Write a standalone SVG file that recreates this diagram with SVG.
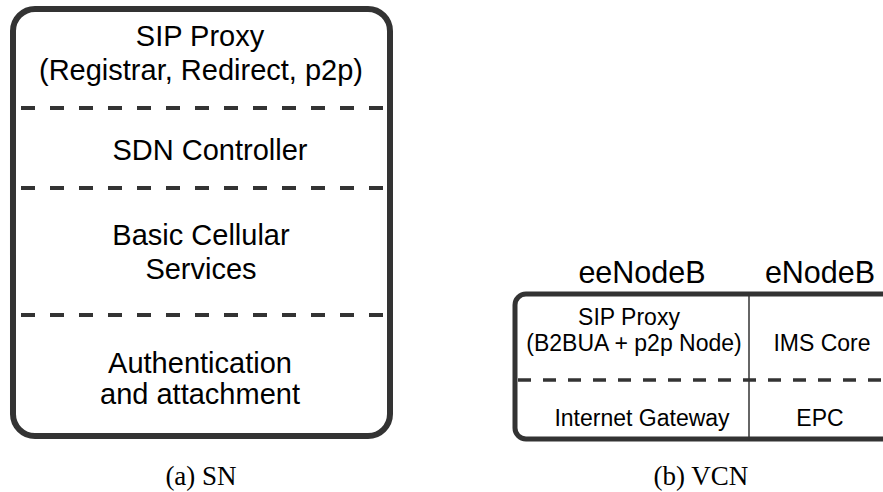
<svg xmlns="http://www.w3.org/2000/svg" width="883" height="492" viewBox="0 0 883 492">
  <style>
    .frame { fill: #ffffff; stroke: #333333; }
    .sep { stroke: #333333; fill: none; }
    .lbl { font-family: "Liberation Sans", Arial, sans-serif; fill: #000000; text-anchor: middle; }
    .big { font-size: 29px; }
    .small { font-size: 23px; }
    .cap { font-family: "Liberation Serif", "Times New Roman", serif; fill: #000000; text-anchor: middle; font-size: 27px; }
  </style>
  <rect width="883" height="492" fill="#ffffff"/>

  <!-- (a) SN: stacked service layers -->
  <g id="sn">
    <rect class="frame" x="13" y="9" width="377" height="427" rx="22" ry="22" stroke-width="6"/>
    <line class="sep" x1="21" y1="108" x2="386" y2="108" stroke-width="4" stroke-dasharray="14 15"/>
    <line class="sep" x1="21" y1="188" x2="386" y2="188" stroke-width="4" stroke-dasharray="14 15"/>
    <line class="sep" x1="21" y1="315" x2="386" y2="315" stroke-width="4" stroke-dasharray="14 15"/>
    <g id="sn-sip" class="lbl big">
      <text x="200" y="46">SIP Proxy</text>
      <text x="201" y="80">(Registrar, Redirect, p2p)</text>
    </g>
    <g id="sn-sdn" class="lbl big">
      <text x="210" y="160">SDN Controller</text>
    </g>
    <g id="sn-basic" class="lbl big">
      <text x="201" y="245">Basic Cellular</text>
      <text x="201" y="279">Services</text>
    </g>
    <g id="sn-auth" class="lbl big">
      <text x="200" y="373">Authentication</text>
      <text x="200" y="404">and attachment</text>
    </g>
    <text class="cap" x="201" y="485">(a) SN</text>
  </g>

  <!-- (b) VCN: eeNodeB / eNodeB split -->
  <g id="vcn">
    <rect class="frame" x="515" y="294" width="400" height="145" rx="11" ry="11" stroke-width="5"/>
    <line class="sep" x1="749" y1="292" x2="749" y2="441" stroke-width="1.5"/>
    <line class="sep" x1="518" y1="380" x2="883" y2="380" stroke-width="3.5" stroke-dasharray="13 12"/>
    <g id="vcn-heads" class="lbl" font-size="30.5">
      <text x="642" y="283">eeNodeB</text>
      <text x="820" y="283">eNodeB</text>
    </g>
    <g id="vcn-sip" class="lbl small">
      <text x="629" y="325">SIP Proxy</text>
      <text x="634" y="351">(B2BUA + p2p Node)</text>
    </g>
    <g id="vcn-ims" class="lbl small">
      <text x="822" y="351">IMS Core</text>
    </g>
    <g id="vcn-gw" class="lbl small">
      <text x="642" y="426">Internet Gateway</text>
    </g>
    <g id="vcn-epc" class="lbl small">
      <text x="820" y="426">EPC</text>
    </g>
    <text class="cap" x="701" y="485">(b) VCN</text>
  </g>
</svg>
